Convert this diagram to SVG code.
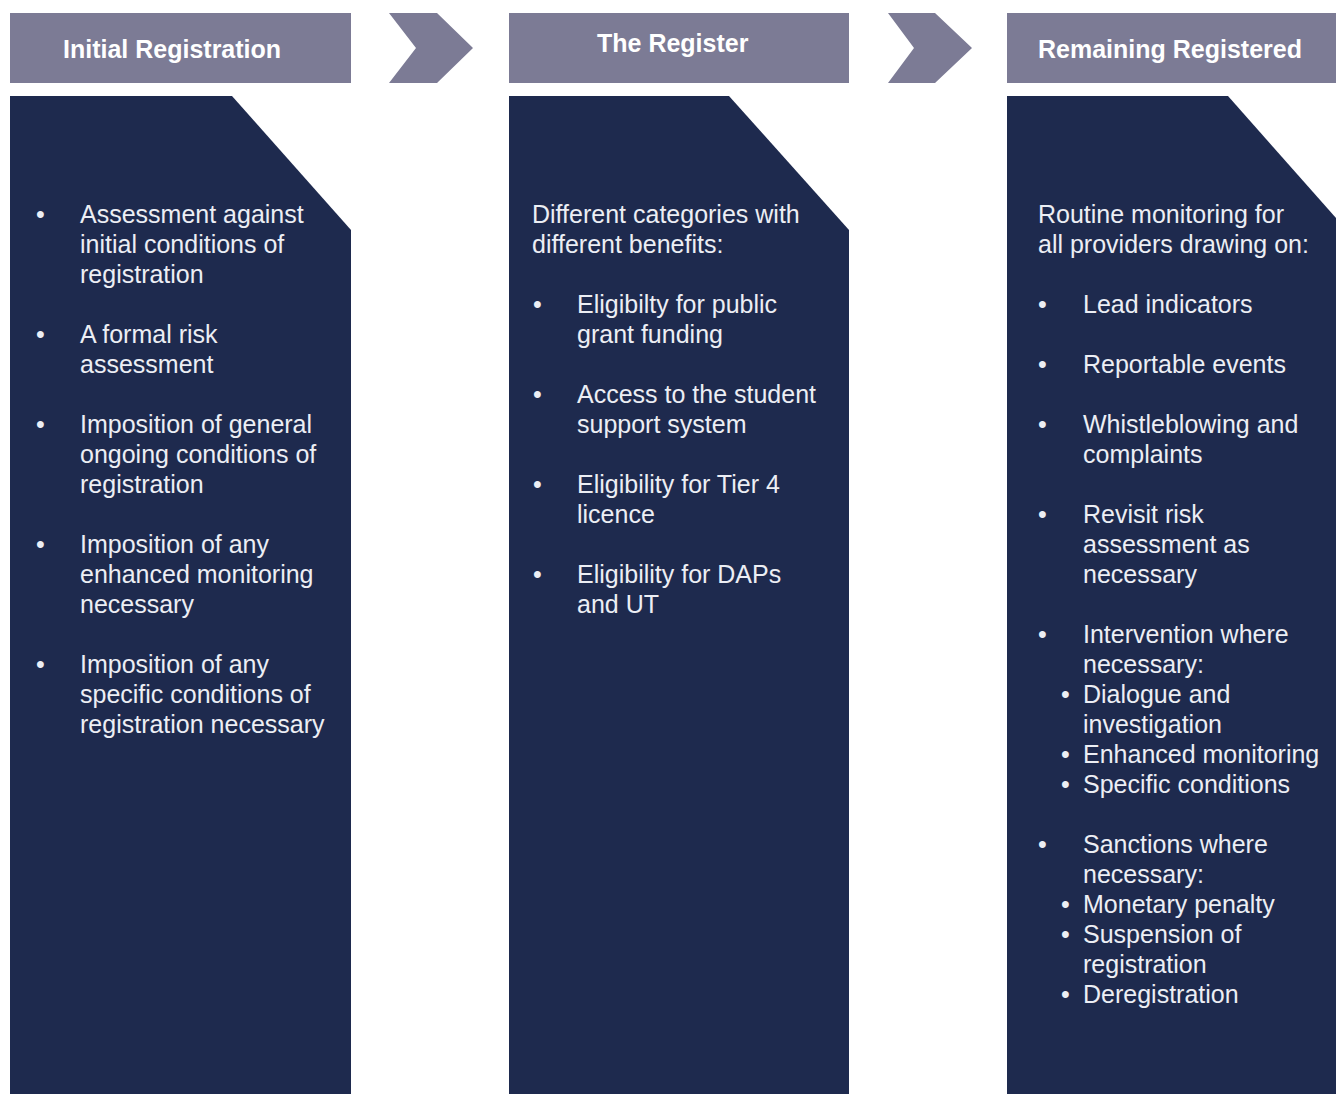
<svg xmlns="http://www.w3.org/2000/svg" width="1336" height="1094" viewBox="0 0 1336 1094">
<style>
.hdr{fill:#7c7b95}
.chev{fill:#7c7b95}
.panel{fill:#1e2a4e}
.ht{font-family:"Liberation Sans",Arial,sans-serif;font-size:25px;font-weight:bold;fill:#ffffff}
.bt{font-family:"Liberation Sans",Arial,sans-serif;font-size:25px;fill:#eceef4}
</style>
<rect width="1336" height="1094" fill="#ffffff"/>
<g id="connectors">
<polygon class="chev" points="389,13 437,13 473,48 437,83 389,83 416,48"/>
<polygon class="chev" points="888,13 935,13 972,48 935,83 888,83 914,48"/>
</g>
<g id="header-initial">
<rect class="hdr" x="10" y="13" width="341" height="70"/>
<text class="ht" x="63" y="58">Initial Registration</text>
</g>
<g id="header-register">
<rect class="hdr" x="509" y="13" width="340" height="70"/>
<text class="ht" x="597" y="52">The Register</text>
</g>
<g id="header-remaining">
<rect class="hdr" x="1007" y="13" width="329" height="70"/>
<text class="ht" x="1038" y="58">Remaining Registered</text>
</g>
<g id="panel-initial">
<polygon class="panel" points="10,96 232,96 351,230 351,1094 10,1094"/>
<text class="bt">
<tspan x="36" y="223">•</tspan><tspan x="80" y="223">Assessment against</tspan>
<tspan x="80" y="253">initial conditions of</tspan>
<tspan x="80" y="283">registration</tspan>
<tspan x="36" y="343">•</tspan><tspan x="80" y="343">A formal risk</tspan>
<tspan x="80" y="373">assessment</tspan>
<tspan x="36" y="433">•</tspan><tspan x="80" y="433">Imposition of general</tspan>
<tspan x="80" y="463">ongoing conditions of</tspan>
<tspan x="80" y="493">registration</tspan>
<tspan x="36" y="553">•</tspan><tspan x="80" y="553">Imposition of any</tspan>
<tspan x="80" y="583">enhanced monitoring</tspan>
<tspan x="80" y="613">necessary</tspan>
<tspan x="36" y="673">•</tspan><tspan x="80" y="673">Imposition of any</tspan>
<tspan x="80" y="703">specific conditions of</tspan>
<tspan x="80" y="733">registration necessary</tspan>
</text>
</g>
<g id="panel-register">
<polygon class="panel" points="509,96 729,96 849,230 849,1094 509,1094"/>
<text class="bt">
<tspan x="532" y="223">Different categories with</tspan>
<tspan x="532" y="253">different benefits:</tspan>
<tspan x="533" y="313">•</tspan><tspan x="577" y="313">Eligibilty for public</tspan>
<tspan x="577" y="343">grant funding</tspan>
<tspan x="533" y="403">•</tspan><tspan x="577" y="403">Access to the student</tspan>
<tspan x="577" y="433">support system</tspan>
<tspan x="533" y="493">•</tspan><tspan x="577" y="493">Eligibility for Tier 4</tspan>
<tspan x="577" y="523">licence</tspan>
<tspan x="533" y="583">•</tspan><tspan x="577" y="583">Eligibility for DAPs</tspan>
<tspan x="577" y="613">and UT</tspan>
</text>
</g>
<g id="panel-remaining">
<polygon class="panel" points="1007,96 1228,96 1336,218 1336,1094 1007,1094"/>
<text class="bt">
<tspan x="1038" y="223">Routine monitoring for</tspan>
<tspan x="1038" y="253">all providers drawing on:</tspan>
<tspan x="1038" y="313">•</tspan><tspan x="1083" y="313">Lead indicators</tspan>
<tspan x="1038" y="373">•</tspan><tspan x="1083" y="373">Reportable events</tspan>
<tspan x="1038" y="433">•</tspan><tspan x="1083" y="433">Whistleblowing and</tspan>
<tspan x="1083" y="463">complaints</tspan>
<tspan x="1038" y="523">•</tspan><tspan x="1083" y="523">Revisit risk</tspan>
<tspan x="1083" y="553">assessment as</tspan>
<tspan x="1083" y="583">necessary</tspan>
<tspan x="1038" y="643">•</tspan><tspan x="1083" y="643">Intervention where</tspan>
<tspan x="1083" y="673">necessary:</tspan>
<tspan x="1061" y="703">•</tspan><tspan x="1083" y="703">Dialogue and</tspan>
<tspan x="1083" y="733">investigation</tspan>
<tspan x="1061" y="763">•</tspan><tspan x="1083" y="763">Enhanced monitoring</tspan>
<tspan x="1061" y="793">•</tspan><tspan x="1083" y="793">Specific conditions</tspan>
<tspan x="1038" y="853">•</tspan><tspan x="1083" y="853">Sanctions where</tspan>
<tspan x="1083" y="883">necessary:</tspan>
<tspan x="1061" y="913">•</tspan><tspan x="1083" y="913">Monetary penalty</tspan>
<tspan x="1061" y="943">•</tspan><tspan x="1083" y="943">Suspension of</tspan>
<tspan x="1083" y="973">registration</tspan>
<tspan x="1061" y="1003">•</tspan><tspan x="1083" y="1003">Deregistration</tspan>
</text>
</g>
</svg>
